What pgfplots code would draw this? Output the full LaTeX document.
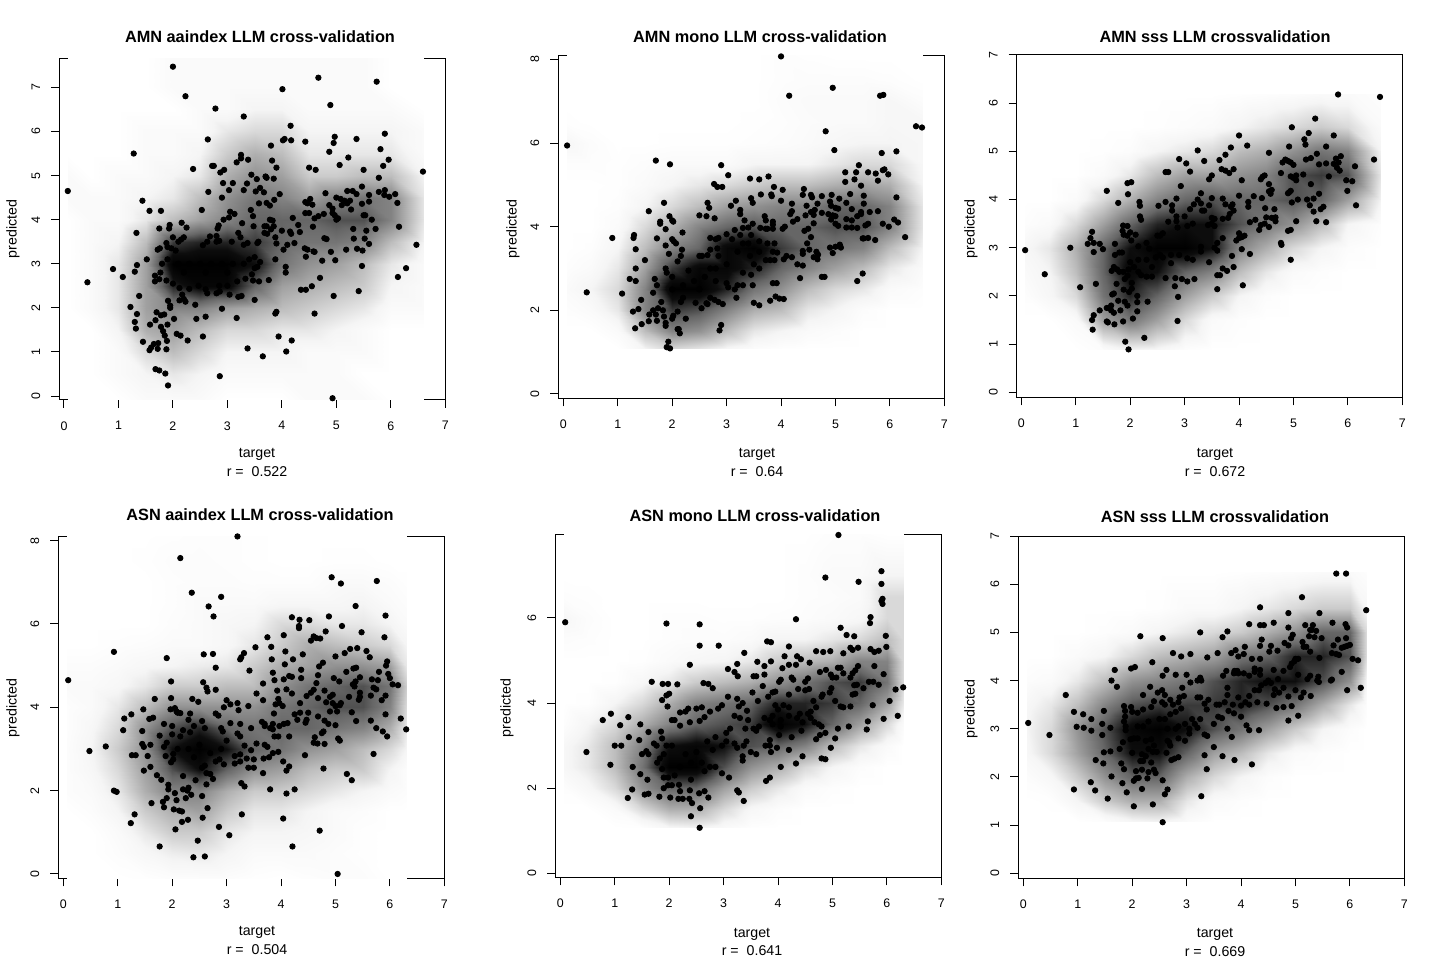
\documentclass[border=0pt]{standalone}
\usepackage{fontspec}
\setmainfont{Liberation Sans}
\usepackage{pgfplots}
\pgfplotsset{compat=1.18}
\pgfplotsset{
  rplot/.style={
    scale only axis, xmax=7, anchor=south west,
    xtick={0,...,7},
    tick align=outside, tick style={black,line width=0.5pt},
    major tick length=4pt, axis line style={line width=0.5pt},
    xtick pos=bottom, ytick pos=left,
    tick label style={font=\fontsize{6.2}{7}\selectfont},
    y tick label style={rotate=90,anchor=south},
    xticklabel shift=3.2pt, yticklabel shift=2pt,
    /pgf/number format/assume math mode=true,
    colormap={gr}{gray(0cm)=(1); gray(1cm)=(0.96); gray(3cm)=(0.74); gray(6cm)=(0.4); gray(8cm)=(0.05); gray(9cm)=(0)},
    point meta min=0, point meta max=9,
  },
  dens/.style={surf, shader=interp, mesh/cols=14, point meta=explicit, forget plot},
  dots/.style={only marks, mark=*, mark size=1.35pt, black},
}
\newcommand\lab[3]{\node at ({#1*0.5pt},{(959-#2)*0.5pt}) {#3};}
\newcommand\ttl[3]{\lab{#1}{#2}{\fontsize{8.15}{9}\selectfont\bfseries #3}}
\newcommand\txt[3]{\lab{#1}{#2}{\fontsize{7.1}{8}\selectfont #3}}
\newcommand\yl[2]{\node[rotate=90] at ({#1*0.5pt},{(960-#2)*0.5pt}) {\fontsize{7.1}{8}\selectfont predicted};}
\begin{document}
\begin{tikzpicture}
\path[use as bounding box] (0,0) rectangle (720pt,480pt);

% AMN aaindex
\begin{axis}[rplot, at={(29.65pt,280pt)}, width=193pt, height=170.85pt,
  xmin=-0.086, ymin=-0.09, ymax=7.66, ytick={0,...,7}]
\addplot[dens] table[x index=0,y index=1,meta index=2,row sep=\\] {
0.07 -0.1 0\\ 0.5 -0.1 0\\ 1 -0.1 0\\ 1.5 -0.1 0.5\\ 2 -0.1 0.5\\ 2.5 -0.1 0.5\\ 3 -0.1 0\\ 3.5 -0.1 0\\ 4 -0.1 0\\ 4.5 -0.1 0.5\\ 5 -0.1 0.5\\ 5.5 -0.1 0.5\\ 6 -0.1 0\\ 6.6 -0.1 0\\
0.07 0.5 0\\ 0.5 0.5 0\\ 1 0.5 0.5\\ 1.5 0.5 1\\ 2 0.5 1.5\\ 2.5 0.5 1\\ 3 0.5 0.5\\ 3.5 0.5 0.5\\ 4 0.5 0.5\\ 4.5 0.5 0.5\\ 5 0.5 0.5\\ 5.5 0.5 0\\ 6 0.5 0\\ 6.6 0.5 0\\
0.07 1 0\\ 0.5 1 0\\ 1 1 0.5\\ 1.5 1 2\\ 2 1 3\\ 2.5 1 2\\ 3 1 1\\ 3.5 1 1\\ 4 1 1\\ 4.5 1 0.5\\ 5 1 0.5\\ 5.5 1 0.5\\ 6 1 0\\ 6.6 1 0\\
0.07 1.5 0\\ 0.5 1.5 0\\ 1 1.5 1\\ 1.5 1.5 3.5\\ 2 1.5 4\\ 2.5 1.5 3\\ 3 1.5 2\\ 3.5 1.5 2\\ 4 1.5 1.5\\ 4.5 1.5 1.5\\ 5 1.5 1\\ 5.5 1.5 0.5\\ 6 1.5 0\\ 6.6 1.5 0\\
0.07 2 0\\ 0.5 2 0.5\\ 1 2 1.5\\ 1.5 2 4\\ 2 2 5\\ 2.5 2 5\\ 3 2 4\\ 3.5 2 3.5\\ 4 2 3\\ 4.5 2 2.5\\ 5 2 2\\ 5.5 2 1.5\\ 6 2 0.5\\ 6.6 2 0.5\\
0.07 2.5 0\\ 0.5 2.5 0.5\\ 1 2.5 1.5\\ 1.5 2.5 4\\ 2 2.5 7.5\\ 2.5 2.5 8.5\\ 3 2.5 8.5\\ 3.5 2.5 6\\ 4 2.5 4\\ 4.5 2.5 3.5\\ 5 2.5 3\\ 5.5 2.5 2.5\\ 6 2.5 1\\ 6.6 2.5 0.5\\
0.07 3 0\\ 0.5 3 0.5\\ 1 3 1.5\\ 1.5 3 4\\ 2 3 9\\ 2.5 3 9\\ 3 3 9\\ 3.5 3 8\\ 4 3 5.5\\ 4.5 3 4.5\\ 5 3 4\\ 5.5 3 3\\ 6 3 1.5\\ 6.6 3 0.5\\
0.07 3.5 0\\ 0.5 3.5 0.5\\ 1 3.5 1\\ 1.5 3.5 3\\ 2 3.5 7\\ 2.5 3.5 7.5\\ 3 3.5 7.5\\ 3.5 3.5 7\\ 4 3.5 6\\ 4.5 3.5 5.5\\ 5 3.5 5.5\\ 5.5 3.5 5\\ 6 3.5 3\\ 6.6 3.5 1\\
0.07 4 0\\ 0.5 4 0.5\\ 1 4 0.5\\ 1.5 4 1.5\\ 2 4 3\\ 2.5 4 4\\ 3 4 5\\ 3.5 4 6\\ 4 4 6\\ 4.5 4 6\\ 5 4 6.5\\ 5.5 4 6.5\\ 6 4 5\\ 6.6 4 1.5\\
0.07 4.5 0.5\\ 0.5 4.5 0.5\\ 1 4.5 0.5\\ 1.5 4.5 1\\ 2 4.5 1.5\\ 2.5 4.5 3\\ 3 4.5 4.5\\ 3.5 4.5 5.5\\ 4 4.5 5\\ 4.5 4.5 4\\ 5 4.5 5\\ 5.5 4.5 5.5\\ 6 4.5 5\\ 6.6 4.5 1.5\\
0.07 5 0.5\\ 0.5 5 0\\ 1 5 0.5\\ 1.5 5 0.5\\ 2 5 1\\ 2.5 5 1.5\\ 3 5 3.5\\ 3.5 5 4.5\\ 4 5 4\\ 4.5 5 2.5\\ 5 5 2.5\\ 5.5 5 3\\ 6 5 3\\ 6.6 5 1\\
0.07 5.5 0\\ 0.5 5.5 0\\ 1 5.5 0\\ 1.5 5.5 0.5\\ 2 5.5 0.5\\ 2.5 5.5 1\\ 3 5.5 2.5\\ 3.5 5.5 3.5\\ 4 5.5 3\\ 4.5 5.5 1.5\\ 5 5.5 1.5\\ 5.5 5.5 1.5\\ 6 5.5 1.5\\ 6.6 5.5 0.5\\
0.07 6 0\\ 0.5 6 0\\ 1 6 0\\ 1.5 6 0.5\\ 2 6 0.5\\ 2.5 6 0.5\\ 3 6 1.5\\ 3.5 6 2\\ 4 6 2\\ 4.5 6 1\\ 5 6 1\\ 5.5 6 1\\ 6 6 1\\ 6.6 6 0.5\\
0.07 6.5 0\\ 0.5 6.5 0\\ 1 6.5 0\\ 1.5 6.5 0\\ 2 6.5 0\\ 2.5 6.5 0.5\\ 3 6.5 0.5\\ 3.5 6.5 1\\ 4 6.5 1\\ 4.5 6.5 0.5\\ 5 6.5 0.5\\ 5.5 6.5 0.5\\ 6 6.5 0.5\\ 6.6 6.5 0\\
0.07 7 0\\ 0.5 7 0\\ 1 7 0\\ 1.5 7 0\\ 2 7 0.5\\ 2.5 7 0.5\\ 3 7 0.5\\ 3.5 7 0.5\\ 4 7 0.5\\ 4.5 7 0.5\\ 5 7 0.5\\ 5.5 7 0.5\\ 6 7 0\\ 6.6 7 0\\
0.07 7.7 0\\ 0.5 7.7 0\\ 1 7.7 0\\ 1.5 7.7 0\\ 2 7.7 0.5\\ 2.5 7.7 0.5\\ 3 7.7 0.5\\ 3.5 7.7 0.5\\ 4 7.7 0.5\\ 4.5 7.7 0.5\\ 5 7.7 0.5\\ 5.5 7.7 0.5\\ 6 7.7 0\\ 6.6 7.7 0\\
};
\addplot[dots] coordinates {
(0.07,4.65)(0.43,2.58)(0.9,2.88)(1.08,2.7)(1.28,5.5)(1.3,2.82)(1.33,3.7)(1.34,2.97)(1.38,2.27)(1.22,2.02)(1.34,1.86)(1.3,1.68)(1.32,1.53)(1.44,4.43)(1.45,1.23)(1.52,3.1)(1.57,4.2)(1.58,1.62)(1.57,1.04)(1.6,1.1)(1.65,1.18)(1.68,1.72)(1.7,1.9)(1.73,1.2)(1.72,1.07)(1.68,0.61)(1.75,0.58)(1.86,0.51)(1.91,0.24)(1.78,4.2)(1.75,3.8)(1.88,1.06)(1.89,1.25)(1.85,1.37)(1.82,1.47)(1.78,1.57)(1.78,1.83)(1.84,1.85)(1.9,1.62)(1.95,2)(1.95,2.05)(1.91,2.16)(2.02,1.75)(2.07,1.41)(2.14,1.37)(2.27,1.26)(2.2,2.2)(2.12,2.17)(2.17,2.3)(2.23,2.14)(2.41,2.07)(2.43,1.75)(2.55,1.35)(2.6,1.8)(2.9,1.98)(2.86,0.45)(3.17,1.77)(3.2,2.25)(3.26,2.27)(3.04,2.3)(2.63,2.33)(2.6,2.42)(2.8,2.33)(2.86,2.37)(3.5,2.18)(3.37,1.08)(3.65,0.9)(3.94,1.35)(3.88,1.87)(3.9,1.91)(4.08,1.01)(4.18,1.26)(4.93,-0.05)
(2,7.47)(2.23,6.8)(2.78,6.52)(3.3,6.34)(2.64,5.82)(3.86,7.67)(4.01,6.96)(4.67,7.22)(5.74,7.13)(4.89,6.6)(4.16,6.13)(4.02,5.8)(4.05,5.83)(4.17,5.8)(3.8,5.68)(4.43,5.77)(4.97,5.88)(4.95,5.74)(5.37,5.83)(5.89,5.95)(5.81,5.6)(4.87,5.54)(5.96,5.36)(5.22,5.41)(3.25,5.47)(3.25,5.39)(3.17,5.3)(3.38,5.36)(3.82,5.34)(3.9,5.18)(2.37,5.15)(2.72,5.22)(2.75,5.22)(2.87,5.07)(2.94,5.13)(4.5,5.18)(4.62,5.13)(5.06,5.24)(5.5,5.13)(5.86,5.22)(6.59,5.09)(3.44,5.02)(3.7,4.98)(3.72,4.95)(3.54,4.92)(3.85,4.93)(5.78,4.95)(2.92,4.83)(3.1,4.83)(3.36,4.82)(3.6,4.72)(3.52,4.64)(3.67,4.62)(3.03,4.67)(3.3,4.67)(2.65,4.63)(2.9,4.5)(3.96,4.58)(3.86,4.45)(5.47,4.75)(5.2,4.65)(5.3,4.65)(5.37,4.58)(4.8,4.6)(5.78,4.63)(5.89,4.67)(5.88,4.56)(5.6,4.56)(5.97,4.52)(6.08,4.58)(6.12,4.38)(4.52,4.47)(4.43,4.4)(4.47,4.37)(4.56,4.34)(3.72,4.38)(3.78,4.32)(3.58,4.37)(2.53,4.22)(3.43,4.22)(5,4.5)(5.08,4.47)(5.15,4.43)(5.25,4.43)(5.1,4.33)(5.2,4.37)(5.47,4.36)(5.6,4.41)(5.27,4.23)(4.87,4.33)(4.93,4.25)(4.93,4.15)(4.97,4.1)(4.43,4.15)(4.5,4.15)(4.77,4.13)(4.67,4.08)(4.6,4.03)(5,4)(5.03,4.03)(5.5,4.1)(5.53,4.1)(5.65,4)(3.13,4.13)(3.05,4.18)(3.03,4.05)(2.93,4)(3.47,4.08)(3.78,4)(3.83,3.98)(3.27,3.92)(3.48,3.85)(3.68,3.85)(3.72,3.85)(3.85,3.85)(3.8,3.78)(4.2,4.04)(4.3,3.88)(2.84,3.87)(2.82,3.8)(2.16,3.93)(2.25,3.82)(1.94,3.88)(1.93,3.8)(4,3.75)(4.15,3.73)(4.17,3.68)(4.33,3.72)(5.31,3.79)(5.55,3.75)(5.72,3.79)(6.15,3.84)(4.57,3.84)(3.68,3.7)(3.73,3.68)(3.88,3.6)
(4.23,3.47)(4.1,3.43)(4.03,3.32)(3.9,3.46)(3.57,3.5)(3.55,3.47)(4.42,3.35)(4.47,3.32)(4.58,3.28)(4.6,3.27)(4.44,3.16)(4.78,3.58)(4.82,3.56)(5.32,3.57)(5.52,3.57)(5.6,3.45)(5.18,3.32)(5.38,3.34)(5.48,3.3)(4.9,3.27)(6.47,3.43)(6.28,2.9)(6.13,2.7)(5.47,2.95)(4.98,3.08)(4.74,3.07)(3.88,3.1)(4.07,2.93)(4.07,2.8)(4.7,2.68)(3.76,2.63)(3.58,2.6)(3.47,2.62)(3.5,3.15)(3.6,3.04)(3.55,2.93)(4.35,2.41)(4.44,2.41)(4.55,2.49)(4.95,2.27)(5.41,2.38)(4.6,1.87)
(1.76,3.35)(1.72,3.32)(1.88,3.47)(1.9,3.38)(2,3.6)(2.2,3.6)(2.1,3.5)(2.15,3.55)(1.97,3.35)(2.05,3.3)(2.55,3.42)(2.63,3.5)(2.68,3.62)(2.8,3.5)(2.85,3.52)(2.8,3.63)(3.08,3.5)(3.2,3.7)(3.24,3.6)(3.3,3.43)(3.37,3.47)(1.67,2.73)(1.67,2.6)(1.75,2.65)(1.77,2.8)(1.88,2.62)(2,2.55)(2.12,2.45)(2.3,2.43)(2.47,2.5)(2.85,2.5)(3,2.5)(3.18,2.6)(3.33,2.66)(3.45,2.76)(3.5,2.9)(3.4,3.1)(1.8,3)(1.9,3.1)(2.1,3)(2.3,3)(2.5,3)(2.7,3)(2.9,3)(3.1,3)(3.3,3)(2.2,2.8)(2.6,2.8)(3,2.8)
};
\end{axis}
\ttl{260}{36}{AMN aaindex LLM cross-validation}
\txt{257}{453}{target}
\txt{257}{471}{r =\ \ 0.522}
\yl{13}{229}

% AMN mono
\begin{axis}[rplot, at={(279.15pt,280.85pt)}, width=193pt, height=171.15pt,
  xmin=-0.092, ymin=-0.103, ymax=8.08, ytick={0,2,4,6,8}]
\addplot[dens] table[x index=0,y index=1,meta index=2,row sep=\\] {
0.07 1.08 0\\ 0.5 1.08 0\\ 1 1.08 0\\ 1.5 1.08 1\\ 2 1.08 2\\ 2.5 1.08 1.5\\ 3 1.08 0.8\\ 3.5 1.08 0.3\\ 4 1.08 0.1\\ 4.5 1.08 0\\ 5 1.08 0\\ 5.5 1.08 0\\ 6 1.08 0\\ 6.6 1.08 0\\
0.07 1.5 0\\ 0.5 1.5 0\\ 1 1.5 0.5\\ 1.5 1.5 3\\ 2 1.5 5\\ 2.5 1.5 4.5\\ 3 1.5 3\\ 3.5 1.5 1.5\\ 4 1.5 1\\ 4.5 1.5 0.5\\ 5 1.5 0.3\\ 5.5 1.5 0\\ 6 1.5 0\\ 6.6 1.5 0\\
0.07 2 0.2\\ 0.5 2 0.5\\ 1 2 1.5\\ 1.5 2 5\\ 2 2 7\\ 2.5 2 6.5\\ 3 2 5\\ 3.5 2 3.5\\ 4 2 3\\ 4.5 2 1.5\\ 5 2 1\\ 5.5 2 0.3\\ 6 2 0\\ 6.6 2 0\\
0.07 2.5 0.5\\ 0.5 2.5 1\\ 1 2.5 2\\ 1.5 2.5 5\\ 2 2.5 9\\ 2.5 2.5 9\\ 3 2.5 7.5\\ 3.5 2.5 5.5\\ 4 2.5 4.5\\ 4.5 2.5 3\\ 5 2.5 2\\ 5.5 2.5 1.5\\ 6 2.5 0.5\\ 6.6 2.5 0.2\\
0.07 3 0.2\\ 0.5 3 0.5\\ 1 3 1.5\\ 1.5 3 4\\ 2 3 7\\ 2.5 3 8.5\\ 3 3 8.5\\ 3.5 3 7.5\\ 4 3 6\\ 4.5 3 5\\ 5 3 4\\ 5.5 3 3\\ 6 3 1.5\\ 6.6 3 0.5\\
0.07 3.5 0\\ 0.5 3.5 0.2\\ 1 3.5 1\\ 1.5 3.5 3\\ 2 3.5 5\\ 2.5 3.5 6\\ 3 3.5 8.5\\ 3.5 3.5 9\\ 4 3.5 7\\ 4.5 3.5 6\\ 5 3.5 5.5\\ 5.5 3.5 5\\ 6 3.5 3\\ 6.6 3.5 1\\
0.07 4 0\\ 0.5 4 0\\ 1 4 0.5\\ 1.5 4 2\\ 2 4 3.5\\ 2.5 4 5\\ 3 4 6\\ 3.5 4 6.5\\ 4 4 6\\ 4.5 4 6\\ 5 4 6.5\\ 5.5 4 6.5\\ 6 4 5\\ 6.6 4 1.5\\
0.07 4.5 0\\ 0.5 4.5 0\\ 1 4.5 0.2\\ 1.5 4.5 1\\ 2 4.5 2\\ 2.5 4.5 3\\ 3 4.5 4\\ 3.5 4.5 4.5\\ 4 4.5 5\\ 4.5 4.5 5\\ 5 4.5 6\\ 5.5 4.5 6\\ 6 4.5 5\\ 6.6 4.5 1.5\\
0.07 5 0\\ 0.5 5 0\\ 1 5 0.1\\ 1.5 5 0.5\\ 2 5 1\\ 2.5 5 1.5\\ 3 5 2\\ 3.5 5 2.5\\ 4 5 3\\ 4.5 5 3\\ 5 5 3.5\\ 5.5 5 4\\ 6 5 3.5\\ 6.6 5 1\\
0.07 5.5 0.2\\ 0.5 5.5 0.2\\ 1 5.5 0.1\\ 1.5 5.5 0.3\\ 2 5.5 0.5\\ 2.5 5.5 0.5\\ 3 5.5 0.5\\ 3.5 5.5 1\\ 4 5.5 1\\ 4.5 5.5 1\\ 5 5.5 1.5\\ 5.5 5.5 2\\ 6 5.5 2\\ 6.6 5.5 0.8\\
0.07 6 0.8\\ 0.5 6 0.3\\ 1 6 0\\ 1.5 6 0\\ 2 6 0.1\\ 2.5 6 0.1\\ 3 6 0.1\\ 3.5 6 0.2\\ 4 6 0.3\\ 4.5 6 0.5\\ 5 6 0.8\\ 5.5 6 1\\ 6 6 1\\ 6.6 6 0.8\\
0.07 6.5 0.1\\ 0.5 6.5 0\\ 1 6.5 0\\ 1.5 6.5 0\\ 2 6.5 0\\ 2.5 6.5 0\\ 3 6.5 0\\ 3.5 6.5 0.1\\ 4 6.5 0.2\\ 4.5 6.5 0.4\\ 5 6.5 0.5\\ 5.5 6.5 0.5\\ 6 6.5 0.8\\ 6.6 6.5 0.8\\
0.07 7 0\\ 0.5 7 0\\ 1 7 0\\ 1.5 7 0\\ 2 7 0\\ 2.5 7 0\\ 3 7 0\\ 3.5 7 0\\ 4 7 0.3\\ 4.5 7 0.5\\ 5 7 0.5\\ 5.5 7 0.5\\ 6 7 0.8\\ 6.6 7 0.3\\
0.07 7.5 0\\ 0.5 7.5 0\\ 1 7.5 0\\ 1.5 7.5 0\\ 2 7.5 0\\ 2.5 7.5 0\\ 3 7.5 0\\ 3.5 7.5 0\\ 4 7.5 0.2\\ 4.5 7.5 0.3\\ 5 7.5 0.3\\ 5.5 7.5 0.3\\ 6 7.5 0.2\\ 6.6 7.5 0\\
0.07 8.1 0\\ 0.5 8.1 0\\ 1 8.1 0\\ 1.5 8.1 0\\ 2 8.1 0\\ 2.5 8.1 0\\ 3 8.1 0\\ 3.5 8.1 0\\ 4 8.1 0.2\\ 4.5 8.1 0.1\\ 5 8.1 0\\ 5.5 8.1 0\\ 6 8.1 0\\ 6.6 8.1 0\\
};
\addplot[dots] coordinates {
(0.07,5.94)(0.43,2.43)(0.9,3.73)(1.08,2.4)(1.22,2.75)(1.28,1.97)(1.3,3.8)(1.29,3.73)(1.33,3.46)(1.32,1.57)(1.33,3)(1.33,2.7)(1.38,2.03)(1.43,2.25)(1.44,1.67)(1.5,3.2)(1.57,4.37)(1.58,1.9)(1.57,1.74)(1.65,2)(1.68,2.75)(1.65,2.42)(1.7,5.58)(1.72,3.72)(1.72,2.6)(1.74,2.05)(1.7,1.9)(1.72,1.75)(1.78,4.12)(1.78,4.07)(1.8,2.2)(1.83,2)(1.85,1.85)(1.88,1.7)(1.88,1.63)(1.85,4.57)(1.88,3.94)(1.88,3.55)(1.88,3)(1.93,1.25)(1.9,1.12)(1.96,1.09)(1.96,5.49)(1.95,4.25)(1.94,3.35)(2,4.15)(2.02,4.12)(2,3.7)(2.03,3.65)(2.07,3.6)(2.1,3.17)(2.1,1.55)(2.12,1.55)(2.14,1.45)(2.1,1.97)(2,1.8)(2.02,1.87)(2.18,3.45)(2.16,3.3)(2.19,3.86)(2.25,1.8)(2.16,2.2)(2.43,2.18)(2.54,2.05)(2.63,2.17)(2.7,3)
(2.5,4.27)(2.63,4.25)(2.65,4.57)(2.68,4.45)(2.78,4.2)(2.77,5.02)(2.83,4.95)(2.92,4.95)(2.9,5.47)(3.03,5.23)(3.08,4.5)(3.17,4.62)(3.25,4.4)(3.25,4.3)(3.33,4.15)(3.43,5.15)(3.6,5.13)(3.77,5.2)(3.87,4.95)(4.03,4.88)(3.45,4.68)(3.48,4.57)(3.63,4.77)(3.82,4.77)(3.83,4.73)(4,4.62)(4.2,4.55)(4.15,7.13)(4,8.07)(4.95,7.32)(5.82,7.13)(5.88,7.15)(6.48,6.4)(6.59,6.37)(4.82,6.28)(4.98,5.83)(5.85,5.76)(6.12,5.8)(5.43,5.47)(5.18,5.3)(5.38,5.3)(5.6,5.3)(5.74,5.27)(5.87,5.35)(5.9,5.37)(5.97,5.25)(5.35,5.13)(5.18,5.07)(5.78,5.1)(5.47,4.98)(4.42,4.9)(4.4,4.76)(4.55,4.76)(4.57,4.7)(4.75,4.73)(4.93,4.76)(5.27,4.78)(5.52,4.74)(6.12,4.7)(5.07,4.67)(4.9,4.6)(4.92,4.5)(5,4.45)(5.05,4.43)(5.2,4.57)(5.52,4.55)(5.3,4.42)(4.67,4.55)(4.47,4.5)(4.2,4.37)(4.17,4.3)(4.55,4.35)(4.62,4.4)(5.47,4.35)(5.63,4.35)(5.78,4.37)(4.75,4.33)(4.87,4.3)(4.95,4.27)(5,4.25)(4.45,4.27)(4.6,4.28)(5.2,4.18)(5.3,4.15)(5.4,4.25)(5.47,4.3)(6.08,4.17)(6.15,4.1)(5.87,4.07)(5.98,4)(5.55,4.03)(5.6,4.07)(4.92,4.17)(5,4.07)(5.05,4.02)(4.6,4.08)(4.3,4.18)(4.22,4.12)(5.2,3.98)(5.3,3.98)(5.4,3.97)(4.03,3.95)(4.07,4)(3.85,4.12)(3.85,4.05)(3.85,3.95)(3.62,3.97)(3.72,3.95)(3.75,3.95)(3.7,4.25)(3.72,4.15)(3.48,4.07)(3.3,3.97)(3.15,3.92)(3.4,3.98)(3.25,3.8)(3.45,3.8)(3,3.82)(2.85,3.73)(2.7,3.73)(2.8,3.7)(2.7,3.45)(2.83,3.48)(2.55,3.3)(2.65,3.32)(2.85,3.3)
(5.5,3.72)(5.52,3.72)(5.6,3.73)(5.73,3.68)(6.28,3.75)(4.43,3.9)(4.5,3.95)(4.55,3.75)(4.48,3.6)(3.88,3.6)(4.52,3.45)(4.65,3.4)(4.4,3.35)(4.4,3.42)(4.68,3.33)(4.9,3.5)(5,3.52)(5.08,3.57)(5.1,3.5)(4.95,3.37)(3.93,3.38)(3.88,3.2)(4.05,3.22)(4.1,3.3)(4.2,3.27)(4.6,3.27)(4.67,3.22)(3.72,3.2)(3.8,3.2)(4.3,3.1)(4.4,3.07)(4.35,2.77)(4.75,2.8)(4.8,2.8)(3.6,3)(3.5,3.1)(3.43,3.3)(5.5,2.88)(5.4,2.7)(3.85,2.65)(3.92,2.65)(3.8,2.23)(3.9,2.33)(3.97,2.28)(4.05,2.27)(3.48,2.6)(3.5,2.18)(3.6,2.12)(3.3,2.6)(3.2,2.6)(3.15,2.5)(3.03,2.55)(3.18,2.3)(2.93,2.15)(2.85,2.2)(2.78,2.25)(2.7,2.3)(2.65,2.15)(2.87,1.52)(2.9,1.65)
(2,2.5)(2.2,2.6)(2.4,2.7)(2.6,2.8)(2.8,3)(3,3.1)(3.2,3.4)(3.4,3.6)(1.9,2.9)(2,2.8)(2.3,2.95)(2.5,3.3)(3.1,3.7)(3.3,3.6)(2.2,2.3)(2.5,2.5)(2.8,2.7)(3,2.65)(3.3,2.9)(3.45,2.85)(3.6,3.4)(3.6,3.65)(3.75,3.6)(3.85,3.4)
};
\end{axis}
\ttl{760}{36}{AMN mono LLM cross-validation}
\txt{757}{453}{target}
\txt{757}{471}{r =\ \ 0.64}
\yl{513}{229}

% AMN sss
\begin{axis}[rplot, at={(508.35pt,281.35pt)}, width=192.8pt, height=171.15pt,
  xmin=-0.085, ymin=-0.104, ymax=7, ytick={0,...,7}]
\addplot[dens] table[x index=0,y index=1,meta index=2,row sep=\\] {
0.07 0.88 0\\ 0.5 0.88 0\\ 1 0.88 0\\ 1.5 0.88 0.3\\ 2 0.88 1\\ 2.5 0.88 0.8\\ 3 0.88 0.2\\ 3.5 0.88 0\\ 4 0.88 0\\ 4.5 0.88 0\\ 5 0.88 0\\ 5.5 0.88 0\\ 6 0.88 0\\ 6.6 0.88 0\\
0.07 1.5 0\\ 0.5 1.5 0\\ 1 1.5 0.5\\ 1.5 1.5 4\\ 2 1.5 5.5\\ 2.5 1.5 4\\ 3 1.5 2\\ 3.5 1.5 0.5\\ 4 1.5 0.2\\ 4.5 1.5 0\\ 5 1.5 0\\ 5.5 1.5 0\\ 6 1.5 0\\ 6.6 1.5 0\\
0.07 2 0.2\\ 0.5 2 0.8\\ 1 2 2\\ 1.5 2 5.5\\ 2 2 7.5\\ 2.5 2 6\\ 3 2 4\\ 3.5 2 2.5\\ 4 2 1\\ 4.5 2 0.3\\ 5 2 0\\ 5.5 2 0\\ 6 2 0\\ 6.6 2 0\\
0.07 2.5 0.5\\ 0.5 2.5 1\\ 1 2.5 3\\ 1.5 2.5 6\\ 2 2.5 8.5\\ 2.5 2.5 8\\ 3 2.5 6\\ 3.5 2.5 5\\ 4 2.5 3\\ 4.5 2.5 1.5\\ 5 2.5 0.5\\ 5.5 2.5 0.2\\ 6 2.5 0\\ 6.6 2.5 0\\
0.07 3 0.8\\ 0.5 3 1.5\\ 1 3 3.5\\ 1.5 3 6\\ 2 3 8\\ 2.5 3 9\\ 3 3 9\\ 3.5 3 8\\ 4 3 5\\ 4.5 3 3.5\\ 5 3 2\\ 5.5 3 1\\ 6 3 0.3\\ 6.6 3 0\\
0.07 3.5 0.2\\ 0.5 3.5 0.5\\ 1 3.5 2\\ 1.5 3.5 4\\ 2 3.5 6\\ 2.5 3.5 7.5\\ 3 3.5 8\\ 3.5 3.5 8\\ 4 3.5 6.5\\ 4.5 3.5 5.5\\ 5 3.5 4.5\\ 5.5 3.5 3\\ 6 3.5 1\\ 6.6 3.5 0.2\\
0.07 4 0\\ 0.5 4 0\\ 1 4 0.5\\ 1.5 4 2\\ 2 4 3.5\\ 2.5 4 5\\ 3 4 6\\ 3.5 4 6.5\\ 4 4 6\\ 4.5 4 6\\ 5 4 6.5\\ 5.5 4 6\\ 6 4 4\\ 6.6 4 1\\
0.07 4.5 0\\ 0.5 4.5 0\\ 1 4.5 0\\ 1.5 4.5 0.5\\ 2 4.5 1.5\\ 2.5 4.5 3\\ 3 4.5 4\\ 3.5 4.5 4\\ 4 4.5 4.5\\ 4.5 4.5 5\\ 5 4.5 6.5\\ 5.5 4.5 7\\ 6 4.5 6.5\\ 6.6 4.5 1.5\\
0.07 5 0\\ 0.5 5 0\\ 1 5 0\\ 1.5 5 0.1\\ 2 5 0.3\\ 2.5 5 1\\ 3 5 1.5\\ 3.5 5 2\\ 4 5 3\\ 4.5 5 3.5\\ 5 5 4.5\\ 5.5 5 5.5\\ 6 5 5\\ 6.6 5 1\\
0.07 5.5 0\\ 0.5 5.5 0\\ 1 5.5 0\\ 1.5 5.5 0\\ 2 5.5 0\\ 2.5 5.5 0.1\\ 3 5.5 0.3\\ 3.5 5.5 0.5\\ 4 5.5 1\\ 4.5 5.5 1.5\\ 5 5.5 2\\ 5.5 5.5 2.5\\ 6 5.5 2\\ 6.6 5.5 0.5\\
0.07 6.2 0\\ 0.5 6.2 0\\ 1 6.2 0\\ 1.5 6.2 0\\ 2 6.2 0\\ 2.5 6.2 0\\ 3 6.2 0\\ 3.5 6.2 0\\ 4 6.2 0.1\\ 4.5 6.2 0.2\\ 5 6.2 0.3\\ 5.5 6.2 0.5\\ 6 6.2 0.5\\ 6.6 6.2 0.2\\
};
\addplot[dots] coordinates {
(0.07,2.95)(0.43,2.45)(0.9,3)(1.08,2.18)(1.22,3.08)(1.27,3.2)(1.3,3.33)(1.33,3.1)(1.33,2.91)(1.44,3.08)(1.5,2.97)(1.37,2.25)(1.3,1.5)(1.33,1.6)(1.31,1.3)(1.44,1.7)(1.57,1.75)(1.57,1.47)(1.59,1.45)(1.57,4.18)(1.65,1.8)(1.67,2.03)(1.7,2.05)(1.65,1.7)(1.7,1.65)(1.71,1.41)(1.78,3.93)(1.72,3.08)(1.72,2.85)(1.75,2.25)(1.66,2.52)(1.7,2.6)(1.76,2.55)(1.8,2.5)(1.78,1.9)(1.82,1.7)(1.87,1.47)(1.91,1.05)(1.97,0.89)(1.85,2.9)(1.8,2.9)(1.86,3.35)(1.87,3.46)(1.95,3.45)(1.88,3.27)(1.95,3.25)(1.96,4.11)(1.95,4.34)(2.02,4.36)(2,3.32)(2.02,3.15)(2.1,3.27)(2.15,3.03)(1.87,2.5)(1.97,2.55)(1.9,2.35)(1.95,2.42)(1.88,2.13)(1.98,2.08)(2.03,2.15)(2.03,2.27)(2,2.7)(2.07,2.6)(2.15,2.75)(2.15,2.5)(2.2,2.43)(2.3,2.4)(2.4,2.4)(2.4,2.6)(2.13,2)(2.13,1.87)(2.13,1.68)(1.9,1.88)(1.95,1.8)(2.05,1.53)(2.32,1.88)(2.26,1.13)(2.87,1.48)(2.88,1.98)(2.82,2.2)(2.83,2.37)(2.95,2.35)(3.05,2.3)(3.18,2.35)(2.65,2.37)
(2.17,3.95)(2.18,3.87)(2.18,3.65)(2.2,3.58)(2.52,3.87)(2.65,3.95)(2.65,4.57)(2.7,4.57)(2.9,4.84)(3.03,4.75)(3.1,4.58)(2.93,4.28)(3.24,5.02)(3.36,4.8)(3.64,4.82)(3.75,4.93)(3.45,4.42)(3.5,4.5)(3.68,4.63)(3.75,4.6)(3.82,4.55)(3.9,4.63)(3.85,5.08)(4,5.33)(4.15,5.12)(4.05,4.4)(2.85,4.02)(2.77,3.88)(2.77,3.77)(2.85,3.65)(2.85,3.55)(3,3.65)(2.7,3.54)(3.1,3.8)(3.17,3.9)(3.24,4)(3.3,4.13)(3.3,3.92)(3.5,4.03)(3.7,4.02)(3.75,3.9)(3.88,3.9)(3.85,3.85)(4,4.08)(3.32,3.77)(3.36,3.77)(3.45,3.88)(3.5,3.62)(3.55,3.6)(3.7,3.6)(3.8,3.62)(3.9,3.77)(3.83,3.7)(3.43,3.47)(3.5,3.5)(3.55,3.45)(2.5,3.25)(2.55,3.25)(2.6,3.3)(2.87,3.42)(3.05,3.45)(3.15,3.5)(2.3,3.1)(2.35,2.98)(2.3,2.75)(2.47,2.8)(2.55,2.85)(2.6,2.8)(2.75,2.68)(2.75,2.85)(2.9,2.85)(3.05,2.78)(3.15,2.75)(3.3,2.92)(3.3,3.02)(3.45,2.7)(3.55,3)(3.6,2.94)(3.87,2.83)(3.6,2.43)(3.65,2.43)(3.6,2.14)(3.7,2.57)(3.78,2.52)(3.9,2.6)(4.07,2.22)(4.05,2.97)(4.2,2.87)(3.95,3.15)(4,3.2)(4,3.3)(4.05,3.22)(4.1,3.25)(4.2,3.53)(4.37,3.37)(4.4,3.47)(4.47,3.5)(4.55,3.43)(4.5,3.63)(4.6,3.62)(4.67,3.55)(4.67,3.63)(4.65,3.8)(4.48,3.82)(4.17,3.85)(4.17,3.95)(4.27,4.07)(4.42,4.03)(4.3,3.58)(4.55,4.17)(4.58,4.12)(4.6,4.2)(4.55,4.32)(4.4,4.42)(4.43,4.47)(4.47,4.5)(4.55,4.97)(4.77,4.55)(4.8,4.77)(4.85,4.83)(4.9,4.8)(4.95,4.77)(5,4.72)(4.92,5.1)(4.97,5.5)(5.2,5.25)(5.22,5.14)(5.28,5.38)(5.4,5.68)(5.23,4.83)(5.32,4.86)(5.43,4.95)(5.47,4.73)(5.6,5.1)(5.74,5.33)(5.6,4.75)(5.65,4.48)(5.74,4.74)(5.78,4.85)(5.83,4.77)(5.87,4.9)(5.8,4.66)(5.85,4.6)(5.97,4.4)(6.08,4.38)(5.99,4.18)(6.13,4.69)(6.15,3.88)(6.48,4.83)(5.82,6.18)(6.59,6.13)(4.92,4.15)(4.95,4.18)(4.9,4.13)(4.95,4.48)(5,4.45)(5.05,4.4)(5.05,4.5)(5.18,4.52)(5.32,4.32)(4.97,3.94)(5.08,4)(5.25,4)(5.37,4.02)(5.47,4.12)(5.3,3.88)(5.37,3.75)(5.5,3.8)(5.55,3.85)(5.42,3.55)(5.6,3.53)(5.05,3.55)(4.9,3.35)(4.95,3.37)(4.77,3.1)(4.78,3.06)(4.95,2.75)(3.6,3.1)(3.7,3.2)
};
\end{axis}
\ttl{1215}{36}{AMN sss LLM crossvalidation}
\txt{1215}{453}{target}
\txt{1215}{471}{r =\ \ 0.672}
\yl{971}{229}

% ASN aaindex
\begin{axis}[rplot, at={(29.15pt,40.85pt)}, width=193pt, height=171.15pt,
  xmin=-0.092, ymin=-0.104, ymax=8.11, ytick={0,2,4,6,8}]
\addplot[dens] table[x index=0,y index=1,meta index=2,row sep=\\] {
0.07 -0.1 0\\ 0.5 -0.1 0\\ 1 -0.1 0\\ 1.5 -0.1 0.1\\ 2 -0.1 0.3\\ 2.5 -0.1 0.3\\ 3 -0.1 0.3\\ 3.5 -0.1 0.1\\ 4 -0.1 0\\ 4.5 -0.1 0.2\\ 5 -0.1 0.3\\ 5.5 -0.1 0.3\\ 6 -0.1 0\\ 6.3 -0.1 0\\
0.07 0.5 0\\ 0.5 0.5 0\\ 1 0.5 0.3\\ 1.5 0.5 0.8\\ 2 0.5 1.3\\ 2.5 0.5 1.5\\ 3 0.5 1\\ 3.5 0.5 0.5\\ 4 0.5 0.5\\ 4.5 0.5 0.5\\ 5 0.5 0.3\\ 5.5 0.5 0.1\\ 6 0.5 0\\ 6.3 0.5 0\\
0.07 1 0\\ 0.5 1 0\\ 1 1 0.5\\ 1.5 1 1.5\\ 2 1 2.5\\ 2.5 1 2.5\\ 3 1 1.5\\ 3.5 1 1\\ 4 1 1\\ 4.5 1 0.8\\ 5 1 0.5\\ 5.5 1 0.1\\ 6 1 0\\ 6.3 1 0\\
0.07 1.5 0\\ 0.5 1.5 0.3\\ 1 1.5 1\\ 1.5 1.5 2.5\\ 2 1.5 3.5\\ 2.5 1.5 4\\ 3 1.5 2.5\\ 3.5 1.5 1.5\\ 4 1.5 1.5\\ 4.5 1.5 1\\ 5 1.5 0.5\\ 5.5 1.5 0.3\\ 6 1.5 0\\ 6.3 1.5 0\\
0.07 2 0.3\\ 0.5 2 0.5\\ 1 2 1.5\\ 1.5 2 3.5\\ 2 2 5\\ 2.5 2 5\\ 3 2 3.5\\ 3.5 2 2.5\\ 4 2 2.5\\ 4.5 2 2\\ 5 2 1.5\\ 5.5 2 1\\ 6 2 0.5\\ 6.3 2 0.3\\
0.07 2.5 0.3\\ 0.5 2.5 0.8\\ 1 2.5 2\\ 1.5 2.5 4\\ 2 2.5 6.5\\ 2.5 2.5 8\\ 3 2.5 6\\ 3.5 2.5 4.5\\ 4 2.5 4\\ 4.5 2.5 3\\ 5 2.5 2.5\\ 5.5 2.5 2.5\\ 6 2.5 1\\ 6.3 2.5 0.3\\
0.07 3 0.3\\ 0.5 3 1\\ 1 3 2.5\\ 1.5 3 4.5\\ 2 3 8\\ 2.5 3 9\\ 3 3 8\\ 3.5 3 6\\ 4 3 5.5\\ 4.5 3 4.5\\ 5 3 4\\ 5.5 3 3\\ 6 3 2\\ 6.3 3 1\\
0.07 3.5 0.2\\ 0.5 3.5 0.8\\ 1 3.5 2\\ 1.5 3.5 4.5\\ 2 3.5 6.5\\ 2.5 3.5 7.5\\ 3 3.5 6\\ 3.5 3.5 5.5\\ 4 3.5 6\\ 4.5 3.5 6\\ 5 3.5 5.5\\ 5.5 3.5 5\\ 6 3.5 3.5\\ 6.3 3.5 1.5\\
0.07 4 0.2\\ 0.5 4 0.5\\ 1 4 1.5\\ 1.5 4 3\\ 2 4 4.5\\ 2.5 4 4.5\\ 3 4 4.5\\ 3.5 4 4.5\\ 4 4 5.5\\ 4.5 4 6\\ 5 4 6.5\\ 5.5 4 6.5\\ 6 4 5\\ 6.3 4 2\\
0.07 4.5 0.5\\ 0.5 4.5 0.5\\ 1 4.5 0.8\\ 1.5 4.5 1.5\\ 2 4.5 2.5\\ 2.5 4.5 2.5\\ 3 4.5 3\\ 3.5 4.5 3\\ 4 4.5 4.5\\ 4.5 4.5 5.5\\ 5 4.5 6\\ 5.5 4.5 6.5\\ 6 4.5 5.5\\ 6.3 4.5 2.5\\
0.07 5 0.3\\ 0.5 5 0.3\\ 1 5 0.5\\ 1.5 5 0.8\\ 2 5 1\\ 2.5 5 1.3\\ 3 5 1.5\\ 3.5 5 2.5\\ 4 5 3.5\\ 4.5 5 4\\ 5 5 4.5\\ 5.5 5 4.5\\ 6 5 4\\ 6.3 5 1.5\\
0.07 5.5 0\\ 0.5 5.5 0\\ 1 5.5 0.2\\ 1.5 5.5 0.3\\ 2 5.5 0.5\\ 2.5 5.5 0.5\\ 3 5.5 0.8\\ 3.5 5.5 1.5\\ 4 5.5 2.5\\ 4.5 5.5 3.5\\ 5 5.5 3\\ 5.5 5.5 2.5\\ 6 5.5 2\\ 6.3 5.5 1\\
0.07 6 0\\ 0.5 6 0\\ 1 6 0\\ 1.5 6 0\\ 2 6 0.3\\ 2.5 6 0.5\\ 3 6 0.8\\ 3.5 6 1\\ 4 6 2\\ 4.5 6 2\\ 5 6 1.5\\ 5.5 6 1.5\\ 6 6 1\\ 6.3 6 0.5\\
0.07 6.5 0\\ 0.5 6.5 0\\ 1 6.5 0\\ 1.5 6.5 0\\ 2 6.5 0.2\\ 2.5 6.5 0.5\\ 3 6.5 0.5\\ 3.5 6.5 0.5\\ 4 6.5 0.8\\ 4.5 6.5 0.8\\ 5 6.5 0.8\\ 5.5 6.5 1\\ 6 6.5 0.5\\ 6.3 6.5 0.3\\
0.07 7 0\\ 0.5 7 0\\ 1 7 0\\ 1.5 7 0\\ 2 7 0.2\\ 2.5 7 0.3\\ 3 7 0.3\\ 3.5 7 0.2\\ 4 7 0.2\\ 4.5 7 0.2\\ 5 7 0.5\\ 5.5 7 0.5\\ 6 7 0.3\\ 6.3 7 0.1\\
0.07 7.5 0\\ 0.5 7.5 0\\ 1 7.5 0\\ 1.5 7.5 0.1\\ 2 7.5 0.3\\ 2.5 7.5 0.3\\ 3 7.5 0.2\\ 3.5 7.5 0.1\\ 4 7.5 0\\ 4.5 7.5 0\\ 5 7.5 0.1\\ 5.5 7.5 0.1\\ 6 7.5 0\\ 6.3 7.5 0\\
0.07 8.15 0\\ 0.5 8.15 0\\ 1 8.15 0\\ 1.5 8.15 0\\ 2 8.15 0.1\\ 2.5 8.15 0.2\\ 3 8.15 0.2\\ 3.5 8.15 0.1\\ 4 8.15 0\\ 4.5 8.15 0\\ 5 8.15 0\\ 5.5 8.15 0\\ 6 8.15 0\\ 6.3 8.15 0\\
};
\addplot[dots] coordinates {
(0.09,4.65)(0.48,2.95)(0.78,3.06)(0.93,5.33)(0.93,2)(0.98,1.97)(1.1,3.45)(1.12,3.73)(1.25,3.83)(1.24,1.22)(1.26,2.85)(1.33,2.85)(1.31,1.43)(1.45,3.43)(1.47,3.95)(1.45,3.12)(1.48,3.05)(1.48,2.48)(1.55,2.83)(1.6,2.57)(1.58,3.72)(1.65,3.75)(1.6,3.1)(1.62,1.7)(1.68,4.2)(1.72,2.37)(1.77,0.66)(1.8,2.26)(1.77,3.32)(1.85,3.6)(1.85,3.05)(1.9,3.15)(1.88,2.83)(1.83,1.73)(1.85,1.6)(1.9,1.82)(1.93,2.03)(1.93,2.14)(1.9,5.18)(1.98,4.62)(1.98,4.22)(1.97,3.95)(2.05,3.98)(2.08,3.9)(2.02,2.75)(1.98,2.68)(2,3.35)(2,3.55)(2.02,2.88)(2.05,1.94)(2.08,1.77)(2.03,1.55)(2.13,1.52)(2.18,1.5)(2.18,1.25)(2.06,1.07)(2.29,1.3)(2.2,2.03)(2.2,2.35)(2.25,1.82)(2.28,2)(2.3,2.07)(2.35,1.9)(2.43,2.25)(2.47,0.8)(2.39,0.4)(2.6,0.42)(2.56,1.35)(2.55,1.87)(2.63,2.15)(2.65,1.58)(2.86,1.13)(3.05,0.93)(3.28,1.43)(3.27,2.18)(3.33,2.1)(3.8,2.03)(4.04,1.33)(4.1,1.93)(4.25,2.03)(4.21,0.66)(4.71,1.04)(5.04,0)(4.78,2.53)(5.21,2.4)(5.3,2.25)(5.7,2.88)(4.44,2.85)(4.04,2.7)(4.15,2.58)(4.1,2.48)(3.67,2.42)(3.4,2.55)(3.5,2.55)(3.37,2.77)(3.5,2.75)(3.45,2.97)(3.33,3.08)(3.15,2.83)(3.15,2.65)(3.25,2.7)(3.25,2.87)(2.95,2.63)(2.87,2.75)(2.75,2.28)(2.7,2.4)(2.63,2.42)
(2.15,7.58)(3.2,8.1)(2.36,6.75)(2.9,6.65)(2.67,6.42)(2.76,6.18)(4.93,7.12)(5.1,6.97)(5.76,7.03)(5.37,6.43)(4.2,6.16)(4.34,6.1)(4.52,6.09)(4.88,6.18)(5.92,6.2)(4.33,5.95)(4.33,5.9)(5.12,5.95)(4.82,5.82)(5.48,5.8)(4.05,5.73)(3.75,5.68)(4.6,5.7)(4.55,5.6)(4.65,5.66)(4.72,5.65)(5.9,5.68)(3.82,5.45)(3.53,5.44)(3.32,5.3)(3.27,5.2)(3.25,5.15)(2.58,5.27)(2.75,5.28)(2.8,4.95)(4.08,5.34)(3.83,5.15)(4.22,5.15)(4.4,5.27)(5,5.22)(5.17,5.3)(5.27,5.4)(5.4,5.42)(5.57,5.35)(5.63,5.2)(5.95,5.1)(5.93,5)(4.07,5.03)(4.37,4.9)(4.77,5.07)(4.7,4.98)(3.42,4.88)(3.85,4.83)(3.88,4.65)(3.67,4.57)(4.05,4.67)(4.15,4.75)(4.2,4.73)(4.37,4.7)(4.68,4.77)(4.97,4.7)(5.07,4.62)(5.2,4.85)(5.33,4.93)(5.38,4.95)(5.45,4.72)(5.8,4.85)(5.97,4.8)(6,4.7)(5.67,4.67)(5.78,4.65)(6.05,4.55)(6.15,4.53)(2.57,4.6)(2.63,4.47)(2.65,4.38)(2.8,4.42)(2.37,4.2)(2.48,4.13)(3,4.17)(3.2,4.1)(3.07,4.07)(2.95,4)(3.22,3.93)(3.4,4.03)(2.33,3.85)(2.1,3.87)(2.15,3.86)(2.3,3.7)(2.8,3.85)(2.85,3.8)(3.07,3.62)(3.25,3.6)(2.55,3.67)(3.65,3.65)(3.7,3.6)(3.55,4.33)(3.67,4.17)(3.93,4.4)(4.1,4.43)(4.2,4.33)(3.95,4.2)(3.97,4.1)(3.9,4.07)(4.03,4.03)(4.35,4.1)(4.47,4.27)(4.55,4.35)(4.6,4.42)(4.65,4.58)(4.95,4.3)(4.9,4.25)(5.1,4.1)(5.08,4.05)(4.95,4.1)(5,4.03)(4.9,3.9)(4.68,4.22)(4.8,4.4)(4.83,4.12)(5.03,3.9)(5.25,4.25)(5.32,4.55)(5.35,4.5)(5.37,4.62)(5.45,4.35)(5.45,4.25)(5.43,4.18)(5.65,4.28)(5.7,4.47)(5.75,4.43)(5.85,4.17)(5.92,4.28)(5.3,3.88)(5.38,3.67)(5.65,3.68)(5.75,3.5)(5.87,3.42)(5.92,3.83)(6.2,3.73)(6.3,3.47)(5.95,3.3)
(3.87,3.85)(3.85,3.6)(3.97,3.55)(4.05,3.6)(4.12,3.62)(4.15,3.3)(4.25,3.83)(4.35,3.87)(4.3,3.7)(4.45,3.63)(4.47,3.7)(4.5,3.87)(4.68,3.78)(4.8,3.68)(4.87,3.6)(5,3.57)(5.05,3.25)(5.08,3.2)(4.78,3.42)(4.75,3.38)(4.8,3.12)(4.62,3.28)(4.6,3.15)(4.67,3.13)(3.7,3.55)(3.8,3.5)(3.85,3.47)(3.88,3.3)(3.95,3.3)(3.75,3.05)(3.55,3.13)(3.7,3.1)(3.85,2.9)(3.95,2.93)(3.78,2.8)(3.68,2.77)(3.45,3.5)(3.2,3.37)(3.25,3.3)(2.9,3.5)(2.93,3.42)(2.6,3.5)(2.4,3.55)(2.33,3.4)(2.2,3.45)(2.15,3.3)(2.3,3)(2.5,3.1)(2.7,2.9)(2.9,3)(2.4,2.8)(2.6,2.6)(2.8,2.7)(3,3.2)(2.1,3)(2.55,2.55)
};
\end{axis}
\ttl{260}{514}{ASN aaindex LLM cross-validation}
\txt{257}{931}{target}
\txt{257}{949}{r =\ \ 0.504}
\yl{13}{708}

% ASN mono
\begin{axis}[rplot, at={(277.65pt,41.35pt)}, width=193pt, height=171.15pt,
  xmin=-0.092, ymin=-0.094, ymax=7.95, ytick={0,2,4,6}]
\addplot[dens] table[x index=0,y index=1,meta index=2,row sep=\\] {
0.07 1.07 0\\ 0.5 1.07 0\\ 1 1.07 0\\ 1.5 1.07 0.1\\ 2 1.07 0.8\\ 2.5 1.07 1\\ 3 1.07 0.5\\ 3.5 1.07 0.1\\ 4 1.07 0\\ 4.5 1.07 0\\ 5 1.07 0\\ 5.5 1.07 0\\ 6 1.07 0\\ 6.3 1.07 0\\
0.07 1.5 0\\ 0.5 1.5 0\\ 1 1.5 0.5\\ 1.5 1.5 2\\ 2 1.5 3.5\\ 2.5 1.5 3.5\\ 3 1.5 2\\ 3.5 1.5 0.8\\ 4 1.5 0.3\\ 4.5 1.5 0\\ 5 1.5 0\\ 5.5 1.5 0\\ 6 1.5 0\\ 6.3 1.5 0\\
0.07 2 0.2\\ 0.5 2 0.8\\ 1 2 2\\ 1.5 2 4.5\\ 2 2 6\\ 2.5 2 6\\ 3 2 4\\ 3.5 2 2.5\\ 4 2 1.5\\ 4.5 2 0.5\\ 5 2 0.2\\ 5.5 2 0\\ 6 2 0\\ 6.3 2 0\\
0.07 2.5 0.8\\ 0.5 2.5 1.5\\ 1 2.5 3\\ 1.5 2.5 5.5\\ 2 2.5 9\\ 2.5 2.5 9\\ 3 2.5 6.5\\ 3.5 2.5 4.5\\ 4 2.5 3.5\\ 4.5 2.5 2\\ 5 2.5 1\\ 5.5 2.5 0.3\\ 6 2.5 0\\ 6.3 2.5 0\\
0.07 3 0.8\\ 0.5 3 1.5\\ 1 3 3\\ 1.5 3 5\\ 2 3 8\\ 2.5 3 8.5\\ 3 3 8\\ 3.5 3 6.5\\ 4 3 6\\ 4.5 3 5\\ 5 3 3\\ 5.5 3 1.5\\ 6 3 0.5\\ 6.3 3 0\\
0.07 3.5 0.2\\ 0.5 3.5 1\\ 1 3.5 2\\ 1.5 3.5 3.5\\ 2 3.5 5\\ 2.5 3.5 6\\ 3 3.5 6.5\\ 3.5 3.5 7\\ 4 3.5 9\\ 4.5 3.5 8\\ 5 3.5 6\\ 5.5 3.5 4\\ 6 3.5 2\\ 6.3 3.5 0.5\\
0.07 4 0\\ 0.5 4 0.1\\ 1 4 1\\ 1.5 4 2\\ 2 4 3.5\\ 2.5 4 5\\ 3 4 5.5\\ 3.5 4 6\\ 4 4 7.5\\ 4.5 4 7.5\\ 5 4 7\\ 5.5 4 6\\ 6 4 4\\ 6.3 4 1.5\\
0.07 4.5 0\\ 0.5 4.5 0\\ 1 4.5 0.1\\ 1.5 4.5 0.8\\ 2 4.5 1.5\\ 2.5 4.5 2.5\\ 3 4.5 3\\ 3.5 4.5 3.5\\ 4 4.5 4.5\\ 4.5 4.5 5.5\\ 5 4.5 6.5\\ 5.5 4.5 7\\ 6 4.5 5.5\\ 6.3 4.5 2\\
0.07 5 0\\ 0.5 5 0\\ 1 5 0\\ 1.5 5 0.1\\ 2 5 0.5\\ 2.5 5 0.8\\ 3 5 1\\ 3.5 5 1.5\\ 4 5 2.5\\ 4.5 5 3\\ 5 5 3.5\\ 5.5 5 5\\ 6 5 5\\ 6.3 5 2\\
0.07 5.5 0.3\\ 0.5 5.5 0.2\\ 1 5.5 0\\ 1.5 5.5 0\\ 2 5.5 0.2\\ 2.5 5.5 0.3\\ 3 5.5 0.3\\ 3.5 5.5 0.5\\ 4 5.5 1\\ 4.5 5.5 1\\ 5 5.5 1.5\\ 5.5 5.5 2\\ 6 5.5 3\\ 6.3 5.5 2\\
0.07 6 0.8\\ 0.5 6 0.3\\ 1 6 0\\ 1.5 6 0\\ 2 6 0.2\\ 2.5 6 0.2\\ 3 6 0.1\\ 3.5 6 0.1\\ 4 6 0.2\\ 4.5 6 0.3\\ 5 6 0.5\\ 5.5 6 0.8\\ 6 6 2\\ 6.3 6 2\\
0.07 6.5 0.2\\ 0.5 6.5 0.1\\ 1 6.5 0\\ 1.5 6.5 0\\ 2 6.5 0\\ 2.5 6.5 0\\ 3 6.5 0\\ 3.5 6.5 0\\ 4 6.5 0\\ 4.5 6.5 0.2\\ 5 6.5 0.3\\ 5.5 6.5 0.5\\ 6 6.5 2\\ 6.3 6.5 2\\
0.07 7 0\\ 0.5 7 0\\ 1 7 0\\ 1.5 7 0\\ 2 7 0\\ 2.5 7 0\\ 3 7 0\\ 3.5 7 0\\ 4 7 0\\ 4.5 7 0.2\\ 5 7 0.5\\ 5.5 7 0.5\\ 6 7 1\\ 6.3 7 1\\
0.07 8 0\\ 0.5 8 0\\ 1 8 0\\ 1.5 8 0\\ 2 8 0\\ 2.5 8 0\\ 3 8 0\\ 3.5 8 0\\ 4 8 0\\ 4.5 8 0\\ 5 8 0.2\\ 5.5 8 0.2\\ 6 8 0\\ 6.3 8 0\\
};
\addplot[dots] coordinates {
(0.09,5.9)(0.48,2.85)(0.78,3.6)(0.93,3.75)(1,3)(0.92,2.55)(1.1,3.48)(1.12,3)(1.25,3.67)(1.26,3.2)(1.33,2.5)(1.32,1.97)(1.24,1.77)(1.47,3.5)(1.45,3.13)(1.47,2.33)(1.55,1.85)(1.62,1.87)(1.6,2.2)(1.5,2.8)(1.58,2.87)(1.62,2.8)(1.62,3.32)(1.72,3.05)(1.77,3)(1.68,4.5)(1.85,3.33)(1.87,3.17)(1.87,4.07)(1.88,4.45)(1.98,4.45)(1.95,4.18)(2,4.22)(1.97,3.92)(2.15,4.44)(2.05,3.6)(2.1,3.6)(1.95,3)(2.05,3)(1.9,2.8)(1.78,2.6)(1.83,2.7)(1.87,2.45)(1.9,2.25)(1.98,2.25)(1.82,1.8)(1.9,2)(1.98,2.07)(2.05,2.07)(2.18,2.08)(2.02,1.78)(2.17,1.75)(2.25,1.75)(2.2,1.93)(2.38,1.95)(2.37,1.75)(2.42,1.65)(2.4,1.34)(2.56,1.07)(2.57,1.53)(2.55,1.88)(2.65,1.93)(2.72,1.78)(2.2,3.78)(2.3,3.8)(2.35,3.87)(2.38,3.55)(2.2,3.47)(2.5,3.87)(2.6,3.9)(2.56,3.58)(2.65,3.67)(2.75,3.8)(2.63,4.47)(2.72,4.45)(2.8,4.35)(2.38,4.9)(1.95,5.87)(2.56,5.85)(2.56,5.35)(2.91,5.35)(3.25,4.92)(3.08,4.8)(3.2,4.73)(3.26,4.63)(3.38,5.18)(3.8,5.45)(3.87,5.43)(3.62,4.97)(3.75,4.87)(3.87,4.98)(4.08,4.82)(4.2,4.9)(4.2,5.33)(4.12,5.1)(4.33,5.97)(4.35,5.1)(4.42,5.03)(4.33,4.9)(4.58,4.95)(3.55,4.63)(3.6,4.63)(3.75,4.67)(3.72,4.4)(3.53,4.25)(3.63,4.05)(3.9,4.25)(3.95,4.27)(3.82,4.15)(4.02,4.5)(4.05,4.55)(4.25,4.6)(4.28,4.55)(4.37,4.33)(4.5,4.3)(4.57,4.33)(4.5,4.5)(4.55,4.58)(4.77,4.73)(4.7,5.22)(4.83,5.2)(4.96,5.22)(5.2,5.17)(5.15,5.77)(5.26,5.6)(5.4,5.57)(5.33,5.3)(5.37,5.25)(5.47,5.3)(5.1,4.83)(5.15,4.83)(5.2,4.7)(5.33,4.6)(5.37,4.7)(5.42,4.77)(5.4,4.42)(5.45,4.43)(5.37,4.2)(5.42,4.22)(5.57,4.35)(4.88,4.78)(4.97,4.67)(5,4.6)(5.07,4.6)(4.98,4.35)(4.95,4.25)(4.8,4.15)(4.82,4.2)(4.65,4.05)(4.7,3.9)(5.05,4.05)(5.15,3.92)(5.2,3.9)(5.33,3.92)(5.47,4.87)(5.69,5.88)(5.7,6.02)(5.9,7.1)(5.9,6.8)(4.87,6.95)(5.48,6.85)(5.11,7.95)(5.92,6.45)(5.9,6.4)(5.92,6.33)(5.98,5.58)(5.99,5.32)(5.7,5.27)(5.77,5.2)(5.85,5.23)(5.77,4.87)(5.94,4.68)(5.67,4.5)(5.75,4.5)(5.85,4.43)(6.16,4.32)(6.3,4.37)(6.05,4.05)(6.2,3.7)(5.94,3.63)(5.74,3.95)(5.65,3.57)(5.63,3.38)
(5.3,3.45)(5.1,3.4)(5.05,3.17)(4.97,2.95)(4.87,3.3)(4.7,3.15)(4.77,3.25)(4.8,3.45)(4.67,3.55)(4.55,3.75)(4.45,3.55)(4.43,3.35)(4.25,3.2)(4.2,2.9)(4.05,2.5)(4.33,2.58)(4.45,2.75)(4.8,2.7)(4.87,2.68)(3.78,2.17)(3.85,2.25)(3.37,1.7)(3.25,1.95)(3.28,1.9)(3.1,2.25)(2.97,2.35)(2.85,2.5)(3.35,2.65)(3.35,2.75)(3.37,3)(3.42,3.1)(3.5,2.85)(3.6,2.8)(3.77,3)(3.85,3)(3.87,2.85)(3.98,2.95)(4.02,3.25)(4.05,3.45)(3.85,3.13)(3.9,3.5)(3.85,3.6)(3.65,3.45)(3.55,3.4)(3.6,3.35)(3.45,3.6)(3.4,3.4)(3.3,3.65)(3.2,3.7)(3.12,3.4)(3.05,3.3)(3.05,3.1)(2.97,3)(3.2,3.05)(3.25,2.95)(3.28,3.92)(3.25,4.1)(3.35,4)(3.43,3.82)(3.08,4.15)(2.97,3.95)(2.9,3.87)(4.2,3.9)(4.1,3.95)(4.2,4.2)(4.35,3.65)(4.4,3.75)(4.6,3.8)(4.6,3.65)(4.75,3.5)
(2.2,2.5)(2.4,2.6)(2.6,2.6)(2.3,2.8)(2.5,2.85)(2.7,3.1)(2.85,3.2)(2.8,2.9)(2.1,2.3)(2.4,2.2)(2.65,2.4)(2.75,2.5)(3.9,3.7)(4,3.85)(4.2,3.7)(4.05,3.6)(3.95,3.95)(3.75,3.65)
};
\end{axis}
\ttl{755}{515}{ASN mono LLM cross-validation}
\txt{752}{933}{target}
\txt{752}{950}{r =\ \ 0.641}
\yl{507}{708}

% ASN sss
\begin{axis}[rplot, at={(509.15pt,40.85pt)}, width=193pt, height=171.15pt,
  xmin=-0.092, ymin=-0.104, ymax=7, ytick={0,...,7}]
\addplot[dens] table[x index=0,y index=1,meta index=2,row sep=\\] {
0.07 1.07 0\\ 0.5 1.07 0\\ 1 1.07 0\\ 1.5 1.07 0.2\\ 2 1.07 0.8\\ 2.5 1.07 1\\ 3 1.07 0.4\\ 3.5 1.07 0\\ 4 1.07 0\\ 4.5 1.07 0\\ 5 1.07 0\\ 5.5 1.07 0\\ 6 1.07 0\\ 6.3 1.07 0\\
0.07 1.5 0\\ 0.5 1.5 0.1\\ 1 1.5 1\\ 1.5 1.5 2.5\\ 2 1.5 3.5\\ 2.5 1.5 3.5\\ 3 1.5 1.5\\ 3.5 1.5 0.5\\ 4 1.5 0.2\\ 4.5 1.5 0\\ 5 1.5 0\\ 5.5 1.5 0\\ 6 1.5 0\\ 6.3 1.5 0\\
0.07 2 0.3\\ 0.5 2 0.8\\ 1 2 2.5\\ 1.5 2 4.5\\ 2 2 6\\ 2.5 2 6\\ 3 2 3.5\\ 3.5 2 2\\ 4 2 1\\ 4.5 2 0.3\\ 5 2 0\\ 5.5 2 0\\ 6 2 0\\ 6.3 2 0\\
0.07 2.5 0.8\\ 0.5 2.5 2\\ 1 2.5 4\\ 1.5 2.5 6\\ 2 2.5 8\\ 2.5 2.5 8\\ 3 2.5 6\\ 3.5 2.5 4\\ 4 2.5 3\\ 4.5 2.5 1.5\\ 5 2.5 0.5\\ 5.5 2.5 0.2\\ 6 2.5 0\\ 6.3 2.5 0\\
0.07 3 1\\ 0.5 3 2\\ 1 3 4.5\\ 1.5 3 6.5\\ 2 3 8.5\\ 2.5 3 9\\ 3 3 8\\ 3.5 3 6.5\\ 4 3 5.5\\ 4.5 3 4\\ 5 3 2.5\\ 5.5 3 1\\ 6 3 0.3\\ 6.3 3 0\\
0.07 3.5 0.8\\ 0.5 3.5 1.5\\ 1 3.5 3\\ 1.5 3.5 5\\ 2 3.5 6.5\\ 2.5 3.5 7\\ 3 3.5 7\\ 3.5 3.5 7\\ 4 3.5 7.5\\ 4.5 3.5 6.5\\ 5 3.5 5.5\\ 5.5 3.5 3.5\\ 6 3.5 1.5\\ 6.3 3.5 0.3\\
0.07 4 0.3\\ 0.5 4 0.5\\ 1 4 1.5\\ 1.5 4 3\\ 2 4 4.5\\ 2.5 4 5\\ 3 4 5.5\\ 3.5 4 6.5\\ 4 4 7.5\\ 4.5 4 8\\ 5 4 8\\ 5.5 4 6.5\\ 6 4 4.5\\ 6.3 4 1\\
0.07 4.5 0\\ 0.5 4.5 0\\ 1 4.5 0.5\\ 1.5 4.5 1\\ 2 4.5 2\\ 2.5 4.5 3\\ 3 4.5 3.5\\ 3.5 4.5 4\\ 4 4.5 5.5\\ 4.5 4.5 6\\ 5 4.5 7.5\\ 5.5 4.5 7.5\\ 6 4.5 6.5\\ 6.3 4.5 2\\
0.07 5 0\\ 0.5 5 0\\ 1 5 0\\ 1.5 5 0.2\\ 2 5 0.5\\ 2.5 5 1\\ 3 5 1.5\\ 3.5 5 2\\ 4 5 2.5\\ 4.5 5 3.5\\ 5 5 4.5\\ 5.5 5 6\\ 6 5 6\\ 6.3 5 2\\
0.07 5.5 0\\ 0.5 5.5 0\\ 1 5.5 0\\ 1.5 5.5 0\\ 2 5.5 0\\ 2.5 5.5 0.1\\ 3 5.5 0.5\\ 3.5 5.5 0.5\\ 4 5.5 1\\ 4.5 5.5 1.5\\ 5 5.5 2\\ 5.5 5.5 2.5\\ 6 5.5 2.5\\ 6.3 5.5 0.8\\
0.07 6.25 0\\ 0.5 6.25 0\\ 1 6.25 0\\ 1.5 6.25 0\\ 2 6.25 0\\ 2.5 6.25 0\\ 3 6.25 0\\ 3.5 6.25 0\\ 4 6.25 0.1\\ 4.5 6.25 0.2\\ 5 6.25 0.3\\ 5.5 6.25 0.5\\ 6 6.25 0.5\\ 6.3 6.25 0.2\\
};
\addplot[dots] coordinates {
(0.09,3.12)(0.48,2.87)(0.78,3.7)(0.93,3.35)(0.98,3.04)(1.1,3.3)(1.11,3.02)(1.25,3.2)(1.25,2.96)(1.24,1.89)(0.93,1.74)(1.32,1.72)(1.33,2.35)(1.45,3.1)(1.48,3.37)(1.45,2.87)(1.47,2.28)(1.48,2.51)(1.55,1.55)(1.6,3.02)(1.6,2.53)(1.62,2.01)(1.62,4)(1.68,4.22)(1.72,3.87)(1.77,2.58)(1.8,2.28)(1.83,2.72)(1.85,3.15)(1.85,3.47)(1.87,3.37)(1.87,3.25)(1.88,3.05)(1.85,2.16)(1.82,1.87)(1.9,1.68)(1.88,2.97)(1.98,3.45)(2,3.35)(1.98,4.25)(2.05,4.28)(2.15,4.92)(2.56,4.88)(2.37,4.38)(2.03,1.39)(2.03,1.92)(2.07,1.97)(2.12,1.98)(2.07,2.12)(2.18,1.75)(2.28,1.97)(2.3,2.1)(2.38,1.43)(2.4,2.15)(2.43,2.08)(2.56,1.93)(2.6,1.64)(2.65,1.74)(2.56,1.06)(3.27,1.6)(3.37,2.16)(3.33,2.45)(3.5,2.62)(3.66,2.43)(3.88,2.35)(4.2,2.26)(2.72,2.35)(2.78,2.38)(2.85,2.41)(2.63,2.5)(2.45,2.52)(2.38,2.52)(2.25,2.43)(2.3,2.58)(2.18,2.47)(2.2,2.33)(2.15,2.33)(2.18,2.15)(2,2.5)(2.03,2.8)(2.1,2.8)(1.97,2.78)(2.25,2.75)(2.35,2.78)(2.4,2.65)(2.68,2.72)(2.7,2.65)(2.65,2.75)(2.85,2.8)(2.97,2.75)(3.05,2.9)(3.05,3)(2.97,3.1)(2.85,3.05)(2.8,3)(2.65,3)(2.5,3.2)(2.3,3.15)(2.1,3.05)(2.2,3.05)(2.1,3.33)(2.2,3.4)(2.35,3.45)(2.2,3.7)(2.33,3.87)(2.47,3.75)(2.55,3.8)(2.6,3.7)(2.55,3.55)(2.6,3.5)(2.7,3.6)(2.75,3.5)(2.7,3.3)(2.8,3.35)(2.9,3.42)(2.85,3.55)(2.87,3.65)(2.95,3.68)(2.92,3.85)(2.63,4.22)(2.56,4.1)(2.8,4.12)(3,4.12)(3.07,3.96)(3.2,4)(3.25,4.06)(3.27,4)(3.25,5)(2.75,4.57)(2.9,4.5)(3.07,4.55)(3.38,4.48)(3.57,4.57)(3.66,4.9)(3.75,5.02)
(3.37,3.4)(3.2,3.65)(3.25,3.65)(3.33,3.52)(3.4,3.6)(3.55,3.5)(3.6,3.5)(3.7,3.55)(3.85,3.5)(3.75,3.7)(3.75,3.85)(3.73,4.2)(3.67,4.1)(3.88,4.2)(3.87,4.15)(3.93,4.2)(3.95,4.15)(4.05,4.15)(4.15,4.1)(4.2,4.45)(4.25,4.25)(4.25,4.18)(4.35,4.22)(4.35,4.12)(4.35,4.45)(4.35,4.72)(4.05,4.55)(4.07,4.7)(3.95,4.5)(3.82,4.57)(3.9,4.63)(4.15,5.17)(4.35,5.15)(4.42,5.15)(4.35,5.52)(4.6,5.2)(4.87,5.4)(4.87,5.1)(4.38,4.85)(4.55,4.72)(4.67,4.62)(4.52,4.6)(4.8,4.78)(4.87,4.73)(4.92,4.88)(4.95,4.95)(5.12,5.73)(5.18,5.15)(5.32,5.15)(5.44,5.4)(5.27,5.05)(5.3,5.05)(5.38,5.03)(5.25,4.92)(5.35,4.9)(5.48,4.88)(5.13,4.8)(5.15,4.7)(5.2,4.7)(5.27,4.6)(5.44,4.47)(5.68,5.2)(5.92,5.17)(5.95,5.1)(5.93,4.88)(5.78,4.85)(5.7,4.73)(5.67,4.57)(5.75,4.55)(5.8,4.53)(5.85,4.68)(5.9,4.7)(5.95,4.72)(6,4.74)(6.05,4.45)(6.15,4.42)(5.85,4.18)(5.95,3.8)(6.2,3.85)(6.3,5.46)(5.75,6.22)(5.93,6.22)(5,4.45)(5.05,4.45)(4.98,4.4)(4.93,4.35)(4.9,4.28)(4.78,4.2)(4.6,4.22)(4.68,4.03)(4.5,4)(4.78,3.85)(4.7,3.75)(4.62,3.82)(5,3.8)(4.93,3.47)(4.78,3.45)(4.65,3.43)(4.87,3.17)(5.05,3.27)(5.1,3.65)(5.15,3.75)(5.28,3.68)(5.22,4.03)(5.27,4.1)(5.05,4.12)(5.42,4.08)(5.4,4)(5.43,3.97)(5.65,4)(5.67,4.02)(4.87,3.67)(4.6,3.7)(4.3,3.55)(4.47,3.52)(4.33,3.8)(4.37,3.9)(4.45,3.95)(4.55,3.95)(4.25,3.8)(4.15,3.68)(4.15,3.5)(4.08,3.55)(4,3.48)(4,3.25)(3.95,3.65)(4.1,3.07)(4.15,2.97)(4.33,2.97)(3.77,3.37)(3.83,2.83)(3.75,3)(3.5,3.1)(3.38,2.85)(3.33,2.88)(3.58,3.25)(3.65,3.22)(3.87,3.32)(3.25,3.2)(3.1,3.2)(3.15,3.1)(3.2,3.02)(2.35,2.3)(2.4,3.57)(2.6,3.2)
};
\end{axis}
\ttl{1215}{516}{ASN sss LLM crossvalidation}
\txt{1215}{933}{target}
\txt{1215}{951}{r =\ \ 0.669}
\yl{971}{709}
\end{tikzpicture}
\end{document}
